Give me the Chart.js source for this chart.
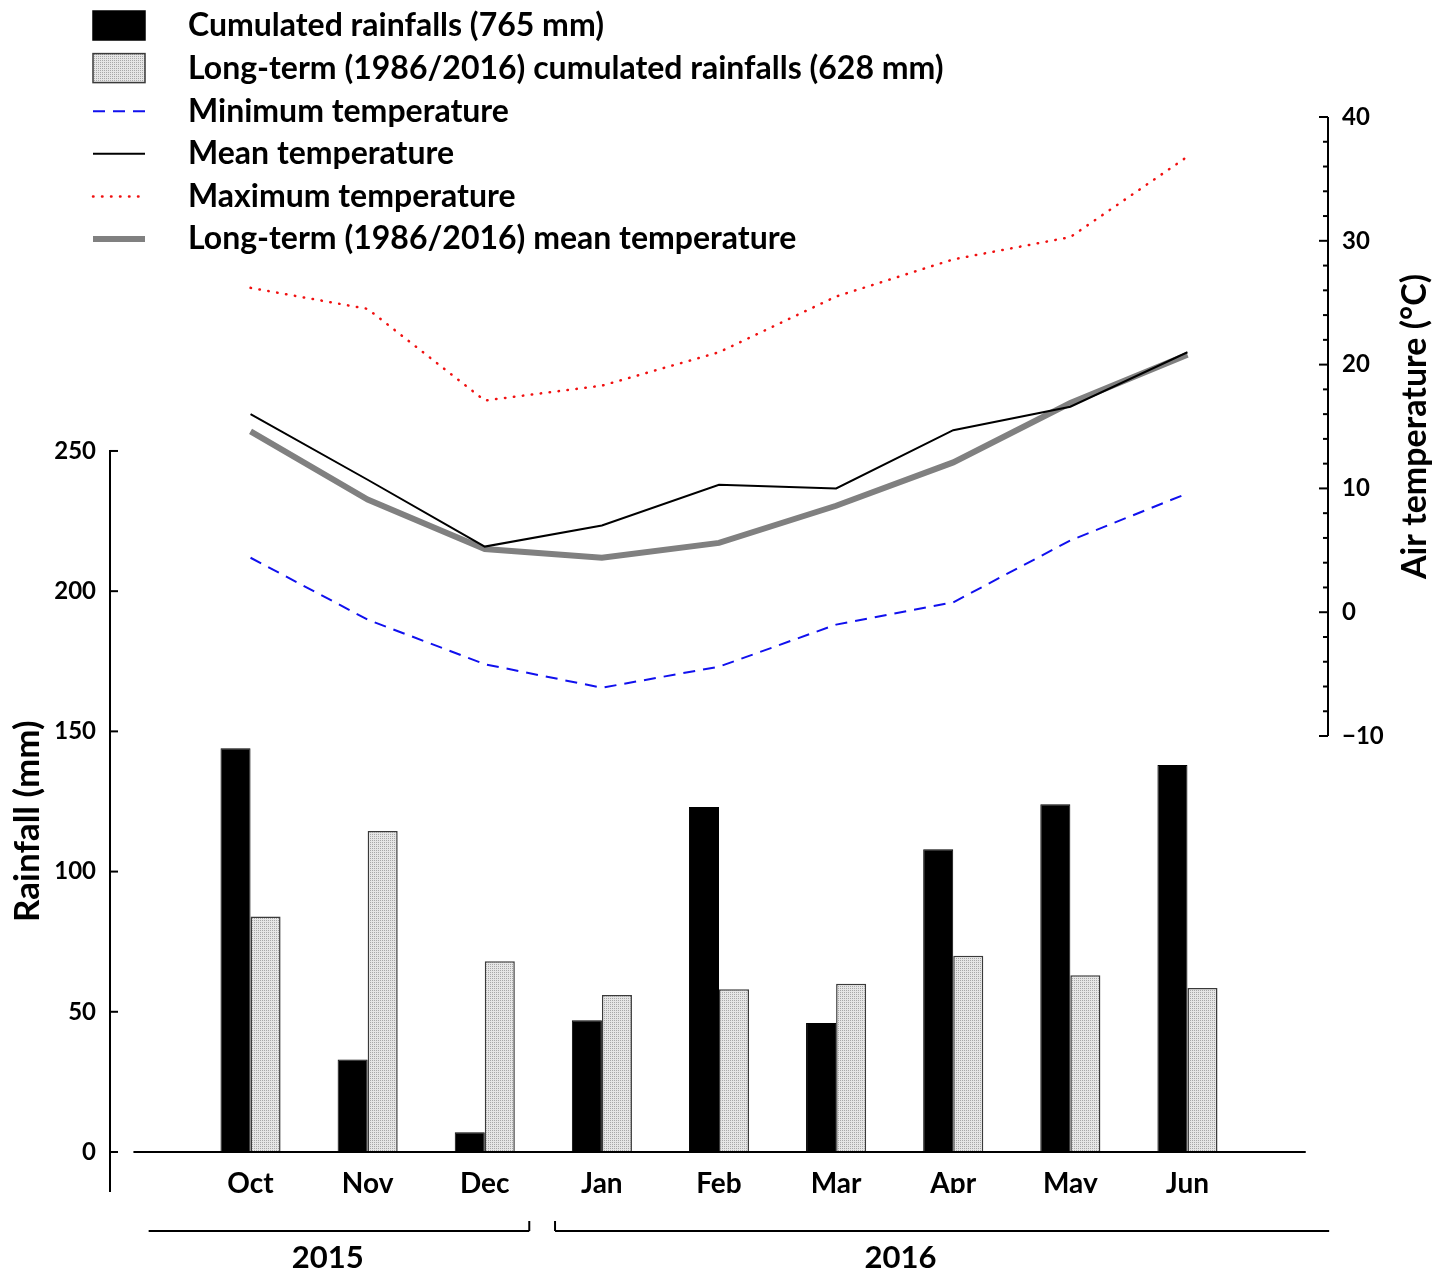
<!DOCTYPE html>
<html>
<head>
<meta charset="utf-8">
<script src="https://cdn.jsdelivr.net/npm/chart.js@4.4.0/dist/chart.umd.min.js"></script>
<style>
  html, body { margin: 0; padding: 0; background: #fff; }
  canvas { display: block; }
</style>
</head>
<body>
<canvas id="climateChart" width="1449" height="1274"></canvas>
<script>
// values
const months = ['Oct', 'Nov', 'Dec', 'Jan', 'Feb', 'Mar', 'Apr', 'May', 'Jun'];
const rainfall = [144, 33, 7, 47, 123, 46, 108, 124, 138];
const rainfallLongTerm = [84, 114.5, 68, 56, 58, 60, 70, 63, 58.5];
const tempMin = [4.4, -0.6, -4.2, -6.1, -4.4, -1.0, 0.8, 5.8, 9.6];
const tempMean = [16.0, 10.7, 5.3, 7.0, 10.3, 10.0, 14.7, 16.6, 21.0];
const tempMax = [26.2, 24.5, 17.1, 18.3, 21.0, 25.5, 28.5, 30.3, 36.8];
const tempMeanLongTerm = [14.6, 9.1, 5.1, 4.4, 5.6, 8.6, 12.1, 16.9, 20.8];
const rainTicks = [0, 50, 100, 150, 200, 250];
const tempTicks = [-10, 0, 10, 20, 30, 40];
const years = ['2015', '2016'];

const FONT = 'Lato, "Open Sans", sans-serif';

function xy(values) {
    return values.map((v, i) => ({ x: i, y: v }));
}

function makeStipple() {
    const c = document.createElement('canvas');
    c.width = 4; c.height = 4;
    const g = c.getContext('2d');
    g.fillStyle = '#e6e6e6';
    g.fillRect(0, 0, 4, 4);
    g.fillStyle = '#a8a8a8';
    g.fillRect(0, 0, 1, 1); g.fillRect(2, 2, 1, 1);
    g.fillRect(2, 0, 1, 1); g.fillRect(0, 2, 1, 1);
    return document.getElementById('climateChart').getContext('2d').createPattern(c, 'repeat');
}

function text(ctx, str, x, y, size, align, angle) {
    ctx.save();
    ctx.translate(x, y);
    if (angle) ctx.rotate(angle);
    ctx.font = `bold ${size}px ${FONT}`;
    ctx.fillStyle = '#000';
    ctx.textAlign = align || 'center';
    ctx.textBaseline = 'middle';
    ctx.fillText(str, 0, 0);
    ctx.restore();
}

function line(ctx, x1, y1, x2, y2, w) {
    ctx.beginPath();
    ctx.moveTo(x1, y1);
    ctx.lineTo(x2, y2);
    ctx.lineWidth = w || 2;
    ctx.strokeStyle = '#000';
    ctx.stroke();
}

// axes, year brackets and legend are drawn by hand, the way the paper figure has them
const paperAxes = {
    id: 'paperAxes',
    afterDraw(chart) {
        const { ctx, chartArea, scales } = chart;
        const x = scales.x, yR = scales.yRain, yT = scales.yTemp;
        ctx.save();
        ctx.setLineDash([]);

        // left rainfall axis
        const lx = chartArea.left;
        line(ctx, lx, yR.getPixelForValue(250) - 1, lx, chartArea.bottom);
        rainTicks.forEach(v => {
            const py = yR.getPixelForValue(v);
            line(ctx, lx, py, lx + 8, py);
            text(ctx, String(v), lx - 14, py, 24, 'right');
        });
        text(ctx, 'Rainfall (mm)', 28, yR.getPixelForValue(118), 35, 'center', -Math.PI / 2);

        // x baseline at 0 mm
        const zy = yR.getPixelForValue(0);
        line(ctx, x.getPixelForValue(-1.0), zy, x.getPixelForValue(9.01), zy);

        // month labels, cut at the plot bottom like the original
        ctx.save();
        ctx.beginPath();
        ctx.rect(0, 0, chart.width, chartArea.bottom + 1);
        ctx.clip();
        months.forEach((m, i) => text(ctx, m, x.getPixelForValue(i), zy + 32, 28, 'center'));
        ctx.restore();

        // right temperature axis
        const rx = chartArea.right;
        line(ctx, rx, yT.getPixelForValue(40), rx, yT.getPixelForValue(-10));
        for (let v = -10; v <= 40; v += 2) {
            const py = yT.getPixelForValue(v);
            const major = tempTicks.includes(v);
            line(ctx, rx - (major ? 9 : 5), py, rx, py, 2);
        }
        tempTicks.forEach(v => {
            const py = yT.getPixelForValue(v);
            text(ctx, v < 0 ? '\u2212' + Math.abs(v) : String(v), rx + 14, py, 24, 'left');
        });
        text(ctx, 'Air temperature (\u00b0C)', 1415, yT.getPixelForValue(15), 34, 'center', -Math.PI / 2);

        // year brackets
        const by = 1231;
        const b1l = x.getPixelForValue(-0.87), b1r = x.getPixelForValue(2.38);
        const b2l = x.getPixelForValue(2.6), b2r = x.getPixelForValue(9.21);
        line(ctx, b1l, by, b1r, by);
        line(ctx, b1r, by, b1r, by - 10);
        line(ctx, b2l, by, b2r, by);
        line(ctx, b2l, by, b2l, by - 10);
        text(ctx, years[0], x.getPixelForValue(0.66), 1258, 31, 'center');
        text(ctx, years[1], x.getPixelForValue(5.55), 1258, 31, 'center');

        // legend
        const ds = chart.data.datasets;
        ds.forEach((d, row) => {
            const cy = 26 + row * 42.6;
            ctx.save();
            if (d.type === 'bar') {
                ctx.fillStyle = d.backgroundColor;
                ctx.fillRect(93, cy - 15, 52, 29);
                ctx.lineWidth = 1.5;
                ctx.strokeStyle = d.borderColor;
                ctx.strokeRect(93, cy - 15, 52, 29);
            } else {
                ctx.beginPath();
                ctx.moveTo(93, cy);
                ctx.lineTo(145, cy);
                ctx.lineWidth = d.borderWidth;
                ctx.strokeStyle = d.borderColor;
                ctx.lineCap = d.borderCapStyle || 'butt';
                ctx.setLineDash(d.borderDash || []);
                ctx.stroke();
            }
            ctx.restore();
            text(ctx, d.label, 188, cy, 32, 'left');
        });
        ctx.restore();
    }
};

function renderClimateChart() {
    const stipple = makeStipple();
    const ctx = document.getElementById('climateChart').getContext('2d');
    new Chart(ctx, {
        data: {
            datasets: [
            {
                type: 'bar',
                label: 'Cumulated rainfalls (765 mm)',
                data: xy(rainfall),
                yAxisID: 'yRain',
                backgroundColor: '#000',
                borderColor: '#000',
                borderWidth: 1,
                order: 10
            },
            {
                type: 'bar',
                label: 'Long-term (1986/2016) cumulated rainfalls (628 mm)',
                data: xy(rainfallLongTerm),
                yAxisID: 'yRain',
                backgroundColor: stipple,
                borderColor: '#3a3a3a',
                borderWidth: 1.5,
                order: 11
            },
            {
                type: 'line',
                label: 'Minimum temperature',
                data: xy(tempMin),
                yAxisID: 'yTemp',
                borderColor: '#1010ee',
                borderWidth: 2,
                borderDash: [12, 8],
                pointRadius: 0,
                tension: 0,
                order: 3
            },
            {
                type: 'line',
                label: 'Mean temperature',
                data: xy(tempMean),
                yAxisID: 'yTemp',
                borderColor: '#000',
                borderWidth: 2,
                pointRadius: 0,
                tension: 0,
                order: 1
            },
            {
                type: 'line',
                label: 'Maximum temperature',
                data: xy(tempMax),
                yAxisID: 'yTemp',
                borderColor: '#f01010',
                borderWidth: 2.5,
                borderDash: [0.5, 8.5],
                borderCapStyle: 'round',
                pointRadius: 0,
                tension: 0,
                order: 4
            },
            {
                type: 'line',
                label: 'Long-term (1986/2016) mean temperature',
                data: xy(tempMeanLongTerm),
                yAxisID: 'yTemp',
                borderColor: '#808080',
                borderWidth: 6,
                pointRadius: 0,
                tension: 0,
                order: 2
            }
            ]
        },
        options: {
            responsive: false,
            animation: false,
            layout: {
                padding: { left: 110, right: 121, top: 117, bottom: 82 }
            },
            datasets: {
                bar: {
                    categoryPercentage: 0.513,
                    barPercentage: 1.0,
                    grouped: true
                }
            },
            scales: {
                x: {
                    type: 'linear',
                    display: false,
                    offset: false,
                    min: -1.2,
                    max: 9.2
                },
                yRain: {
                    type: 'linear',
                    display: false,
                    min: -14.27,
                    max: 369.1
                },
                yTemp: {
                    type: 'linear',
                    display: false,
                    min: -46.83,
                    max: 40
                }
            },
            plugins: {
                legend: { display: false },
                title: { display: false },
                tooltip: { enabled: false }
            }
        },
        plugins: [paperAxes]
    });
}

window.addEventListener('DOMContentLoaded', () => {
    renderClimateChart();
});
</script>
</body>
</html>
